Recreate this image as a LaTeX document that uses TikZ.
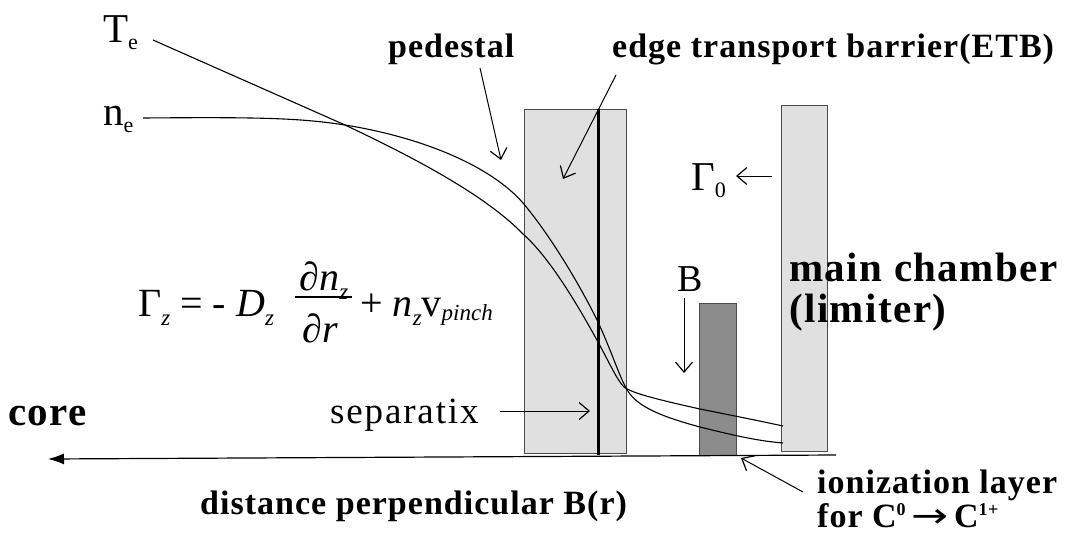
\documentclass[tikz,border=0pt]{standalone}
\usepackage{fontspec}
\setmainfont{Liberation Serif}
\newfontfamily\arrowfont{DejaVu Sans}
\usetikzlibrary{arrows.meta}
\definecolor{barfill}{gray}{0.88}
\definecolor{darkfill}{gray}{0.55}
\definecolor{edgegray}{gray}{0.3}
\newcommand{\lsub}[1]{\raisebox{-9pt}{\fontsize{23}{23}\selectfont\itshape #1}}
\newcommand{\rsub}[1]{\raisebox{-7pt}{\fontsize{22}{22}\selectfont #1}}
\newcommand{\rsup}[1]{\raisebox{12pt}{\fontsize{18}{18}\selectfont #1}}
\begin{document}
\begin{tikzpicture}[x=1pt,y=-1pt,
  lbl/.style={font=\fontsize{34}{36}\selectfont\addfontfeatures{LetterSpace=3}\bfseries, inner sep=0pt, anchor=base west},
  biglbl/.style={font=\fontsize{41}{44}\selectfont\addfontfeatures{LetterSpace=3.5}\bfseries, inner sep=0pt, anchor=base west},
  plainlbl/.style={font=\fontsize{41}{44}\selectfont, inner sep=0pt, anchor=base west},
  eqlbl/.style={font=\fontsize{40}{44}\selectfont, inner sep=0pt},
  barb/.style={-{Straight Barb[length=10pt,width=17pt,line width=1.2pt]}, line width=1pt},
  prof/.style={line width=1.1pt},
  barbox/.style={fill=barfill, draw=edgegray, line width=1pt},
]
\useasboundingbox (0,0) rectangle (1067,536);
\fill[white] (0,0) rectangle (1067,536);

% bars
\draw[barbox] (524,109) rectangle (626,453);
\draw[barbox] (781,105) rectangle (827,451);
\draw[fill=darkfill, draw=edgegray, line width=1pt] (699,303) rectangle (736,455);

% profiles
\draw[prof] (153,40) .. controls (250,83) and (300,105) .. (345,125)
  .. controls (430,165) and (490,200) .. (523,234)
  .. controls (548,256) and (575,300) .. (598,342)
  .. controls (610,364) and (617,380) .. (624,387)
  .. controls (632,393) and (655,399) .. (700,409)
  .. controls (735,416) and (760,421) .. (783,426);
\draw[prof] (143,118) .. controls (260,117) and (300,118) .. (345,125)
  .. controls (420,137) and (490,165) .. (523,203)
  .. controls (550,235) and (580,285) .. (598,322)
  .. controls (610,348) and (618,372) .. (624,384)
  .. controls (632,402) and (648,413) .. (700,427)
  .. controls (740,437) and (760,441) .. (783,443);

% separatrix
\draw[line width=3pt] (598,109) -- (598,455);

% axis
\coordinate (axR) at (836,455);
\coordinate (axL) at (48,459);
\draw[line width=1.2pt, -{Latex[length=16pt,width=11pt]}] (axR) -- (axL);

% labels
\node[plainlbl] (Te) at (103,42) {T\rsub{e}};
\node[plainlbl] (ne) at (103,125) {n\rsub{e}};
\node[lbl] (ped) at (388,57) {pedestal};
\node[lbl] (etb) at (612,57) {edge transport barrier(ETB)};
\node[plainlbl] (G0) at (691,190) {Γ\rsub{0}};
\node[plainlbl, font=\fontsize{38}{40}\selectfont] (Blbl) at (677,291) {B};
\node[biglbl] (mc1) at (789,281) {main chamber};
\node[biglbl] (mc2) at (789,322) {(limiter)};
\node[biglbl] (core) at (8,425) {core};
\node[plainlbl, font=\fontsize{37}{40}\selectfont\addfontfeatures{LetterSpace=5}] (sep) at (330,423) {separatix};
\node[lbl] (dist) at (200,514) {distance perpendicular B(r)};
\node[lbl] (ion1) at (817,493) {ionization layer};
\node[lbl] (ion2) at (817,527) {for C\rsup{0}\,{\arrowfont\mdseries\scalebox{1.3}[1]{→}}\,C\rsup{1+}};

% formula
\node[eqlbl, anchor=base west] (eqL) at (138,316) {Γ\lsub{z} = - \textit{D}\lsub{z}};
\node[eqlbl, anchor=base] (eqN) at (324,290) {∂\textit{n}\lsub{z}};
\node[eqlbl, anchor=base] (eqD) at (320,342) {∂\textit{r}};
\coordinate (fbL) at (295,297);
\coordinate (fbR) at (352,297);
\draw[line width=1.3pt] (fbL) -- (fbR);
\node[eqlbl, anchor=base west] (eqR) at (360,316) {+ \textit{n}\lsub{z}v\raisebox{-4pt}{\fontsize{23}{23}\selectfont\itshape pinch}};

% arrows
\coordinate (pedS) at (480,68);
\coordinate (pedE) at (501,160);
\draw[barb] (pedS) -- (pedE);
\coordinate (etbS) at (616,75);
\coordinate (etbE) at (563,179);
\draw[barb] (etbS) -- (etbE);
\coordinate (g0S) at (772,176);
\coordinate (g0E) at (736,176);
\draw[barb] (g0S) -- (g0E);
\coordinate (bS) at (684,298);
\coordinate (bE) at (684,373);
\draw[barb] (bS) -- (bE);
\coordinate (sepS) at (500,411);
\coordinate (sepE) at (590,411);
\draw[barb] (sepS) -- (sepE);
\coordinate (ionS) at (803,492);
\coordinate (ionE) at (741,458);
\draw[barb] (ionS) -- (ionE);
\end{tikzpicture}
\end{document}
